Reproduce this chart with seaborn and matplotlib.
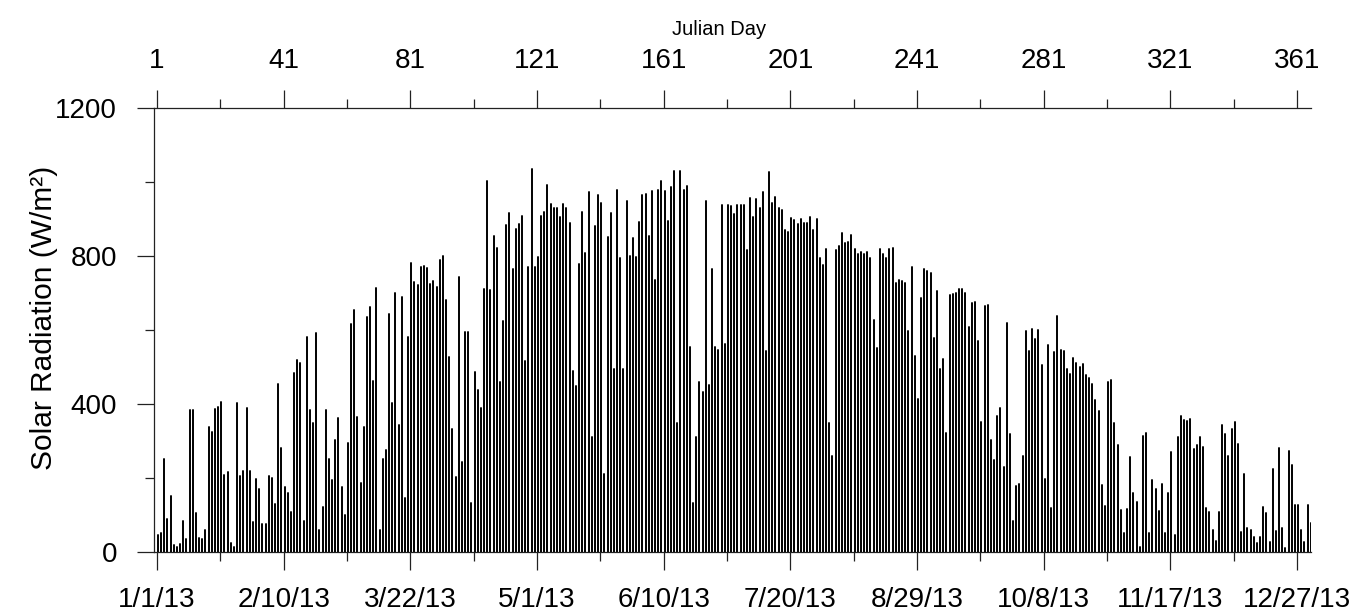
import numpy as np
import pandas as pd
import matplotlib
matplotlib.use("Agg")
import matplotlib.pyplot as plt
import seaborn as sns
from matplotlib.ticker import FixedLocator

# ---------------- data ----------------
days = list(range(1, 366))
peak_radiation = [
    # days 1-36
    45, 50, 250, 88, 150, 18, 14, 20, 84, 33, 383, 383, 104, 36, 34, 59, 338, 325,
    386, 390, 404, 207, 215, 24, 14, 401, 205, 219, 388, 219, 81, 196, 170, 76, 76, 206,
    # days 37-72
    198, 128, 453, 280, 176, 158, 108, 482, 518, 509, 84, 580, 383, 349, 591, 60, 120, 383,
    252, 194, 302, 361, 176, 99, 293, 615, 655, 363, 185, 338, 636, 663, 462, 712, 60, 250,
    # days 73-107
    275, 644, 402, 700, 343, 690, 144, 580, 780, 729, 722, 771, 773, 767, 724, 733, 716, 789,
    800, 681, 527, 333, 203, 742, 243, 593, 593, 131, 487, 437, 388, 710, 1003, 707, 854,
    # days 108-145
    822, 460, 624, 884, 917, 764, 873, 886, 908, 516, 769, 1034, 769, 798, 908, 919, 993, 940,
    929, 929, 906, 940, 929, 888, 490, 448, 777, 920, 807, 974, 311, 881, 965, 942, 210, 852,
    915, 493,
    # days 146-181
    978, 793, 493, 949, 800, 848, 798, 892, 965, 967, 854, 976, 735, 978, 1002, 976, 895, 985,
    1030, 347, 1030, 978, 989, 553, 133, 311, 459, 433, 949, 451, 765, 553, 545, 939, 562, 939,
    # days 182-218
    935, 912, 939, 939, 939, 816, 956, 904, 954, 929, 972, 543, 1026, 942, 960, 929, 924, 870,
    865, 903, 897, 885, 900, 888, 890, 906, 870, 899, 793, 775, 818, 349, 259, 815, 828, 863, 834,
    # days 219-254
    838, 857, 820, 804, 811, 804, 810, 793, 627, 550, 819, 806, 795, 820, 822, 727, 734, 732,
    727, 597, 770, 529, 412, 686, 764, 760, 755, 578, 704, 494, 521, 320, 695, 697, 700, 710,
    # days 255-290
    710, 700, 609, 672, 675, 569, 351, 664, 667, 302, 248, 367, 388, 230, 619, 318, 83, 178,
    183, 259, 598, 544, 602, 576, 600, 505, 197, 559, 117, 540, 637, 545, 542, 495, 481, 524,
    # days 291-327
    511, 500, 507, 478, 469, 453, 410, 381, 180, 124, 459, 464, 347, 289, 113, 50, 115, 255,
    158, 135, 14, 314, 320, 51, 194, 170, 110, 182, 50, 158, 270, 45, 309, 367, 356, 354, 359,
    # days 328-365
    278, 288, 309, 283, 117, 108, 59, 29, 108, 343, 317, 259, 331, 352, 291, 52, 210, 63,
    60, 39, 23, 41, 120, 104, 27, 225, 56, 280, 65, 9, 272, 234, 126, 126, 60, 27, 126, 78,
]

julian_ticks = [1, 41, 81, 121, 161, 201, 241, 281, 321, 361]
julian_labels = ["1", "41", "81", "121", "161", "201", "241", "281", "321", "361"]
date_labels = ["1/1/13", "2/10/13", "3/22/13", "5/1/13", "6/10/13",
               "7/20/13", "8/29/13", "10/8/13", "11/17/13", "12/27/13"]
minor_day_ticks = [21, 61, 101, 141, 181, 221, 261, 301, 341]
y_major = [0, 400, 800, 1200]
y_minor = [200, 600, 1000]

# ---------------- style ----------------
sns.set_theme(style="ticks")
plt.rcParams['font.family'] = ['Liberation Sans', 'DejaVu Sans']

n = len(days)
df = pd.DataFrame({
    "day": np.repeat(days, 2),
    "x": np.repeat(days, 2) + 0.3,   # peak near solar noon
    "value": np.column_stack([np.zeros(n), peak_radiation]).ravel(),
})

fig = plt.figure(figsize=(13.56, 6.16), dpi=100)
ax = fig.add_axes([154 / 1356, 1 - 551.7 / 616, (1311 - 154) / 1356, (551.7 - 108) / 616])

sns.lineplot(data=df, x="x", y="value", units="day", estimator=None,
             color="black", linewidth=1.4, ax=ax, legend=False)

ax.set_xlim(0.05, 365.4)
ax.set_ylim(0, 1200)

axis_color = "#222222"
for s in ["left", "bottom"]:
    ax.spines[s].set_color(axis_color)
    ax.spines[s].set_linewidth(0.9)
ax.spines["right"].set_visible(False)
ax.spines["top"].set_visible(False)

ax.set_xticks(julian_ticks)
ax.set_xticklabels(date_labels)
ax.xaxis.set_minor_locator(FixedLocator(minor_day_ticks))
ax.set_yticks(y_major)
ax.set_yticklabels([str(v) for v in y_major])
ax.yaxis.set_minor_locator(FixedLocator(y_minor))

ax.tick_params(axis="x", which="major", direction="out", length=12.7, width=0.9,
               color=axis_color, labelsize=20, pad=13, labelcolor="black")
ax.tick_params(axis="x", which="minor", direction="out", length=6.2, width=0.9,
               color=axis_color)
ax.tick_params(axis="y", which="major", direction="out", length=12.5, width=0.9,
               color=axis_color, labelsize=20, pad=14, labelcolor="black")
ax.tick_params(axis="y", which="minor", direction="out", length=6.2, width=0.9,
               color=axis_color)

ax.set_xlabel("")
ax.set_ylabel("Solar Radiation (W/m²)", fontsize=21.5, color="black")
ax.yaxis.set_label_coords(-0.083, 0.527)

sec = ax.secondary_xaxis("top")
sec.set_xticks(julian_ticks)
sec.set_xticklabels(julian_labels)
sec.xaxis.set_minor_locator(FixedLocator(minor_day_ticks))
sec.tick_params(axis="x", which="major", direction="out", length=12.7, width=0.9,
                color=axis_color, labelsize=20, pad=12, labelcolor="black")
sec.tick_params(axis="x", which="minor", direction="out", length=6.2, width=0.9,
                color=axis_color)
sec.spines["top"].set_color(axis_color)
sec.spines["top"].set_linewidth(0.9)
sec.set_xlabel("Julian Day", fontsize=14.5, color="black")
sec.xaxis.set_label_coords(0.488, (551.7 - 35) / 443.7, transform=ax.transAxes)

fig.savefig("out.png", dpi=100, facecolor="white")
